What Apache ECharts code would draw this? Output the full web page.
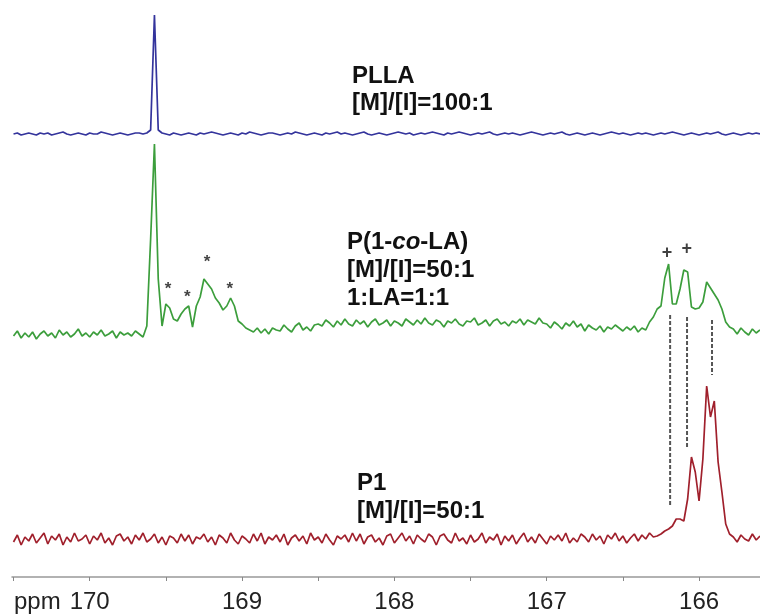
<!DOCTYPE html>
<html><head><meta charset="utf-8">
<script src="https://cdn.jsdelivr.net/npm/echarts@6/dist/echarts.min.js"></script>
<style>html,body{margin:0;padding:0;background:#fff}#c{width:760px;height:616px}</style>
</head><body><div id="c"></div>
<script>
// chemical shift sampling points (ppm)
const ppm = [
170.5,170.475,170.45,170.425,170.4,170.375,170.35,170.325,170.3,170.275,
170.25,170.225,170.2,170.175,170.15,170.125,170.1,170.075,170.05,170.025,
170,169.975,169.95,169.925,169.9,169.875,169.85,169.825,169.8,169.775,
169.75,169.725,169.7,169.675,169.65,169.625,169.6,169.575,169.55,169.525,
169.5,169.475,169.45,169.425,169.4,169.375,169.35,169.325,169.3,169.275,
169.25,169.225,169.2,169.175,169.15,169.125,169.1,169.075,169.05,169.025,
169,168.975,168.95,168.925,168.9,168.875,168.85,168.825,168.8,168.775,
168.75,168.725,168.7,168.675,168.65,168.625,168.6,168.575,168.55,168.525,
168.5,168.475,168.45,168.425,168.4,168.375,168.35,168.325,168.3,168.275,
168.25,168.225,168.2,168.175,168.15,168.125,168.1,168.075,168.05,168.025,
168,167.975,167.95,167.925,167.9,167.875,167.85,167.825,167.8,167.775,
167.75,167.725,167.7,167.675,167.65,167.625,167.6,167.575,167.55,167.525,
167.5,167.475,167.45,167.425,167.4,167.375,167.35,167.325,167.3,167.275,
167.25,167.225,167.2,167.175,167.15,167.125,167.1,167.075,167.05,167.025,
167,166.975,166.95,166.925,166.9,166.875,166.85,166.825,166.8,166.775,
166.75,166.725,166.7,166.675,166.65,166.625,166.6,166.575,166.55,166.525,
166.5,166.475,166.45,166.425,166.4,166.375,166.35,166.325,166.3,166.275,
166.25,166.225,166.2,166.175,166.15,166.125,166.1,166.075,166.05,166.025,
166,165.975,165.95,165.925,165.9,165.875,165.85,165.825,165.8,165.775,
165.75,165.725,165.7,165.675,165.65,165.625,165.6
];
// PLLA [M]/[I]=100:1 intensity
const pllaIntensity = [
0,1,-1,0,1,0,-1,1,0,1,
-1,0,1,2,0,-1,0,1,0,-1,
1,0,0,2,1,0,-1,0,1,0,
-1,0,1,1,0,1,4,119,4,1,
0,-1,1,0,-1,0,1,0,-1,1,
0,1,2,1,0,-1,0,1,0,-1,
1,0,2,1,0,-1,0,1,1,0,
-1,0,1,0,2,1,0,-1,0,1,
0,-1,1,0,1,2,0,1,0,-1,
0,1,2,0,-1,0,1,0,-1,0,
1,2,1,0,1,-1,0,1,0,1,
2,1,0,-1,1,0,1,2,1,0,
-1,0,1,0,1,2,0,-1,0,1,
0,1,0,-1,0,1,2,1,0,-1,
0,1,0,1,2,0,-1,0,1,0,
-1,0,1,0,-1,0,1,2,1,0,
1,0,-1,0,1,0,1,0,-1,0,
1,0,1,2,1,0,-1,0,1,0,
-1,0,1,0,1,2,0,-1,0,1,
0,-1,0,1,0,1,0
];
// P(1-co-LA) intensity
const copolymerIntensity = [
-2,3,-4,1,-3,2,-5,0,3,-2,
1,-4,4,-1,2,-3,0,5,-2,1,
-3,2,-1,4,-2,0,3,-4,2,-1,
1,-2,3,0,-3,8,95,190,55,8,
30,26,15,13,20,25,28,7,28,37,
55,50,45,36,31,24,28,36,28,13,
10,6,4,2,6,1,5,0,6,4,
3,9,5,2,8,11,4,7,3,9,
10,8,14,11,7,13,9,15,10,8,
14,10,13,7,12,15,9,11,14,8,
13,11,8,15,12,9,14,10,16,11,
9,14,12,7,13,11,15,10,8,13,
12,16,9,11,14,8,13,15,10,12,
8,13,11,15,9,14,12,10,16,11,
10,6,12,9,5,11,8,13,7,10,
3,9,6,4,8,2,7,5,9,6,
3,7,4,8,2,6,4,12,17,25,
28,56,70,30,30,45,64,62,27,25,
26,32,52,46,40,34,25,12,7,5,
0,6,2,-1,5,1,4
];
// P1 [M]/[I]=50:1 intensity
const p1Intensity = [
-3,4,-6,2,-2,5,-4,1,6,-5,
3,-1,5,-6,2,-3,6,-2,0,4,
-5,3,-1,6,-4,1,-6,3,5,-2,
2,-5,4,-1,6,-3,0,5,-4,2,
-6,3,1,-4,5,-2,4,-5,2,0,
5,-3,2,-6,4,1,-4,6,-1,-5,
3,0,-4,5,-2,6,-5,2,-1,4,
-3,5,-6,1,4,-2,3,-5,6,-1,
2,-4,5,-1,-6,3,0,4,-3,6,
-2,5,-5,2,4,-3,1,-6,3,5,
-4,1,6,-2,3,-5,4,0,-3,5,
2,-6,3,5,-1,-4,6,-2,1,-5,
4,-3,0,6,-4,2,-1,5,-6,3,
-2,4,-5,1,6,-3,2,-4,5,0,
-5,3,-1,4,-2,6,-4,1,-3,5,
2,-3,5,-1,3,-5,4,0,6,-2,
3,-4,1,5,-2,4,0,6,2,3,
5,8,10,13,20,20,18,40,82,67,
38,80,153,122,138,77,47,15,5,2,
-3,4,0,-2,5,-1,3
];
const tickLabels = [170,169,168,167,166];
const tickMarks = [170.5,170,169.5,169,168.5,168,167.5,167,166.5,166];
// annotation marks (ppm, height on the trace they belong to)
const starPpm = [169.485,169.36,169.23,169.08];
const starLevel = [49,41,76,49];
const plusPpm = [166.21,166.08];
const plusLevel = [81,85];
const dashPpm = [166.19,166.079,165.915];
const dashTop = [19,17,14];      // on P(1-co-LA) trace
const dashBottom = [32,91,164];  // on P1 trace

// layout: vertical offset of each trace (stacked spectra)
const base = {plla: 443, co: 243, p1: 38};
const FONT = '"Liberation Sans", Arial, sans-serif';

const chart = echarts.init(document.getElementById('c'), null, {renderer:'canvas'});
function trace(vals, off, color){
  return {type:'line', data: ppm.map((p,i)=>[p, vals[i]+off]), showSymbol:false, symbol:'none',
    lineStyle:{color:color, width:1.7}, silent:true, z:3};
}
const series = [
  trace(pllaIntensity, base.plla, '#34349c'),
  trace(copolymerIntensity, base.co, '#3c9e3c'),
  trace(p1Intensity, base.p1, '#a0202c'),
  {type:'scatter', symbolSize:0, data: starPpm.map((p,i)=>[p, starLevel[i]+base.co]),
    label:{show:true, position:'inside', formatter:'*', fontSize:17, fontWeight:'bold', color:'#111', fontFamily:FONT, offset:[0,4]}},
  {type:'scatter', symbolSize:0, data: plusPpm.map((p,i)=>[p, plusLevel[i]+base.co]),
    label:{show:true, position:'inside', formatter:'+', fontSize:18, fontWeight:'bold', color:'#111', fontFamily:FONT}}
];
dashPpm.forEach((p,i)=>{
  series.push({type:'line', data:[[p, dashTop[i]+base.co],[p, dashBottom[i]+base.p1]], showSymbol:false, symbol:'none',
    lineStyle:{color:'#555', width:2, type:[4,2]}, z:2, silent:true});
});

chart.setOption({
  animation:false,
  backgroundColor:'#fff',
  grid:{left:12, right:0, top:0, bottom:39, containLabel:false},
  xAxis:{type:'value', min:165.6, max:170.51, inverse:true,
    axisLine:{lineStyle:{color:'#999', width:1.5}},
    axisTick:{customValues:tickMarks, length:4, lineStyle:{color:'#888', width:1}},
    axisLabel:{customValues:tickLabels, fontSize:24, color:'#222', margin:13, fontFamily:FONT, formatter:v=>String(v)},
    splitLine:{show:false}},
  yAxis:{type:'value', min:0, max:577, show:false},
  graphic:[
    {type:'text', left:352, top:63, style:{text:'PLLA\n[M]/[I]=100:1', fontSize:24, fontWeight:'bold', fontFamily:FONT, lineHeight:27, fill:'#111'}},
    {type:'text', left:347, top:230, style:{text:'{b|P(1-}{i|co}{b|-LA)}\n{b|[M]/[I]=50:1}\n{b|1:LA=1:1}', fill:'#111',
      rich:{b:{fontSize:24, fontWeight:'bold', fontFamily:FONT, lineHeight:28, color:'#111'},
            i:{fontSize:24, fontWeight:'bold', fontStyle:'italic', fontFamily:FONT, lineHeight:28, color:'#111'}}}},
    {type:'text', left:357, top:469, style:{text:'P1\n[M]/[I]=50:1', fontSize:24, fontWeight:'bold', fontFamily:FONT, lineHeight:28, fill:'#111'}},
    {type:'text', left:14, top:590, style:{text:'ppm', fontSize:24, fontFamily:FONT, fill:'#222'}}
  ],
  series:series
});
</script>
</body></html>
